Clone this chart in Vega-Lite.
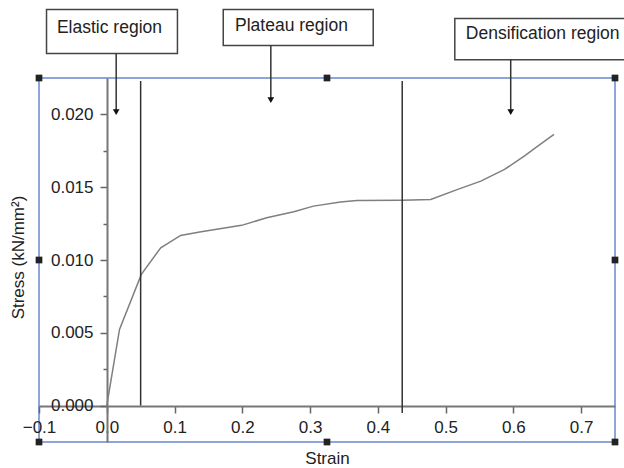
{
  "$schema": "https://vega.github.io/schema/vega-lite/v6.json",
  "width": 576,
  "height": 364,
  "autosize": {"type": "none"},
  "padding": {"left": 39, "top": 78, "right": 9, "bottom": 26},
  "background": "white",
  "config": {
    "view": {"stroke": "#8ea5db", "strokeWidth": 2},
    "font": "Liberation Sans",
    "axis": {"grid": false}
  },
  "datasets": {
    "curve": [
      {"strain": 0.0, "stress": 0.0},
      {"strain": 0.0188, "stress": 0.00523},
      {"strain": 0.051, "stress": 0.00901},
      {"strain": 0.0796, "stress": 0.01084},
      {"strain": 0.109, "stress": 0.01169},
      {"strain": 0.137, "stress": 0.01192},
      {"strain": 0.199, "stress": 0.01238},
      {"strain": 0.236, "stress": 0.0129},
      {"strain": 0.276, "stress": 0.01331},
      {"strain": 0.305, "stress": 0.0137},
      {"strain": 0.345, "stress": 0.01398},
      {"strain": 0.369, "stress": 0.01409},
      {"strain": 0.436, "stress": 0.01411},
      {"strain": 0.478, "stress": 0.01416},
      {"strain": 0.518, "stress": 0.01485},
      {"strain": 0.552, "stress": 0.01542},
      {"strain": 0.587, "stress": 0.01622},
      {"strain": 0.616, "stress": 0.01714},
      {"strain": 0.636, "stress": 0.01782},
      {"strain": 0.66, "stress": 0.01863}
    ],
    "bounds": [
      {"strain": 0.05, "stress": 0.0, "stress2": 0.0223},
      {"strain": 0.436, "stress": -0.0005, "stress2": 0.0223}
    ],
    "boxes": [
      {"label": "Elastic region", "strain": -0.0889, "strain2": 0.1043, "stress": 0.02721, "stress2": 0.02419, "tx": 0.004, "ty": 0.02593},
      {"label": "Plateau region", "strain": 0.1719, "strain2": 0.3932, "stress": 0.02721, "stress2": 0.02474, "tx": 0.2726, "ty": 0.02606},
      {"label": "Densification region", "strain": 0.5136, "strain2": 0.78, "stress": 0.02659, "stress2": 0.02375, "tx": 0.6433, "ty": 0.02549}
    ],
    "arrows": [
      {"strain": 0.0139, "stress": 0.02419, "stress2": 0.02016},
      {"strain": 0.2421, "stress": 0.02474, "stress2": 0.02098},
      {"strain": 0.5961, "stress": 0.02375, "stress2": 0.02016}
    ],
    "handles": [
      {"strain": -0.1, "stress": -0.0025},
      {"strain": -0.1, "stress": 0.0225},
      {"strain": 0.75, "stress": -0.0025},
      {"strain": 0.75, "stress": 0.0225},
      {"strain": 0.325, "stress": 0.0225},
      {"strain": 0.325, "stress": -0.0025},
      {"strain": -0.1, "stress": 0.01},
      {"strain": 0.75, "stress": 0.01}
    ]
  },
  "layer": [
    {
      "data": {"name": "curve"},
      "mark": {"type": "line", "color": "#7f7f7f", "strokeWidth": 1.5},
      "encoding": {
        "x": {
          "field": "strain", "type": "quantitative", "title": "Strain",
          "scale": {"domain": [-0.1, 0.75], "nice": false, "zero": false},
          "axis": {
            "offset": -36,
            "values": [-0.1, -0.05, 0, 0.05, 0.1, 0.15, 0.2, 0.25, 0.3, 0.35, 0.4, 0.45, 0.5, 0.55, 0.6, 0.65, 0.7],
            "labelExpr": "abs(datum.value*10 - round(datum.value*10)) < 0.001 ? format(datum.value, '.1f') : ''",
            "labelFlush": false,
            "labelOverlap": false,
            "labelFontSize": 17,
            "labelColor": "#222",
            "labelPadding": 6,
            "domainColor": "#777",
            "domainWidth": 2,
            "tickColor": "#666",
            "tickWidth": 1.5,
            "tickSize": {"condition": {"test": "abs(datum.value*10 - round(datum.value*10)) < 0.001", "value": 7}, "value": 4},
            "titleFontSize": 17,
            "titleFontWeight": "normal",
            "titleColor": "#222",
            "titleY": 52,
            "titleBaseline": "middle"
          }
        },
        "y": {
          "field": "stress", "type": "quantitative", "title": "Stress (kN/mm²)",
          "scale": {"domain": [-0.0025, 0.0225], "nice": false, "zero": false},
          "axis": {
            "offset": -68,
            "values": [0, 0.0025, 0.005, 0.0075, 0.01, 0.0125, 0.015, 0.0175, 0.02],
            "labelExpr": "abs(datum.value*200 - round(datum.value*200)) < 0.001 ? format(datum.value, '.3f') : ''",
            "labelOverlap": false,
            "labelFontSize": 17,
            "labelColor": "#222",
            "labelPadding": 7,
            "domainColor": "#777",
            "domainWidth": 2,
            "tickColor": "#666",
            "tickWidth": 1.5,
            "tickSize": {"condition": {"test": "abs(datum.value*200 - round(datum.value*200)) < 0.001", "value": 7}, "value": 4},
            "titleFontSize": 17,
            "titleFontWeight": "normal",
            "titleColor": "#222",
            "titleAngle": -90,
            "titleAlign": "center",
            "titleBaseline": "middle",
            "titleX": -89,
            "titleY": 179
          }
        }
      }
    },
    {
      "data": {"name": "bounds"},
      "mark": {"type": "rule", "color": "#333", "strokeWidth": 1.5},
      "encoding": {
        "x": {"field": "strain", "type": "quantitative"},
        "y": {"field": "stress", "type": "quantitative"},
        "y2": {"field": "stress2"}
      }
    },
    {
      "data": {"name": "boxes"},
      "mark": {"type": "rect", "fill": "white", "stroke": "#444", "strokeWidth": 1.5},
      "encoding": {
        "x": {"field": "strain", "type": "quantitative"},
        "x2": {"field": "strain2"},
        "y": {"field": "stress", "type": "quantitative"},
        "y2": {"field": "stress2"}
      }
    },
    {
      "data": {"name": "boxes"},
      "mark": {"type": "text", "fontSize": 17.5, "color": "#222", "align": "center", "baseline": "middle"},
      "encoding": {
        "x": {"field": "tx", "type": "quantitative"},
        "y": {"field": "ty", "type": "quantitative"},
        "text": {"field": "label"}
      }
    },
    {
      "data": {"name": "arrows"},
      "mark": {"type": "rule", "color": "#333", "strokeWidth": 1.5},
      "encoding": {
        "x": {"field": "strain", "type": "quantitative"},
        "y": {"field": "stress", "type": "quantitative"},
        "y2": {"field": "stress2"}
      }
    },
    {
      "data": {"name": "arrows"},
      "mark": {"type": "point", "shape": "triangle-down", "filled": true, "color": "#111", "size": 45, "opacity": 1},
      "encoding": {
        "x": {"field": "strain", "type": "quantitative"},
        "y": {"field": "stress2", "type": "quantitative"}
      }
    },
    {
      "data": {"name": "handles"},
      "mark": {"type": "point", "shape": "square", "filled": true, "color": "#222", "size": 45, "opacity": 1},
      "encoding": {
        "x": {"field": "strain", "type": "quantitative"},
        "y": {"field": "stress", "type": "quantitative"}
      }
    }
  ]
}
